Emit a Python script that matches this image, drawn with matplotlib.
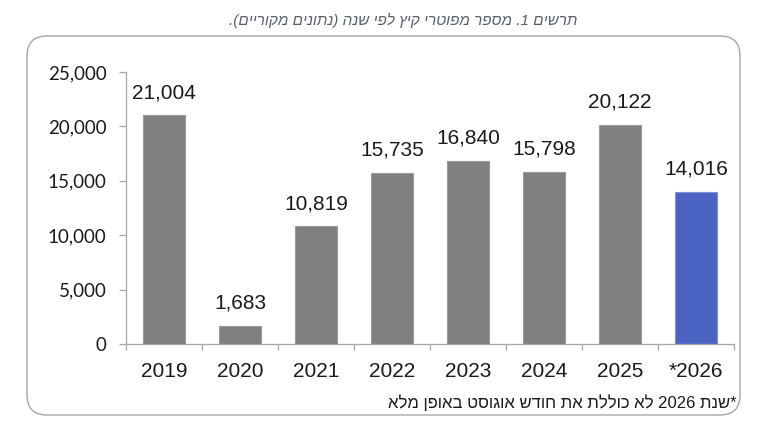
import matplotlib
matplotlib.use("Agg")
import matplotlib.pyplot as plt
from matplotlib.patches import FancyBboxPatch
from matplotlib.transforms import IdentityTransform
import re

categories = ["2019", "2020", "2021", "2022", "2023", "2024", "2025", "*2026"]
values = [21004, 1683, 10819, 15735, 16840, 15798, 20122, 14016]
yticks = [0, 5000, 10000, 15000, 20000, 25000]
title_text = "תרשים 1. מספר מפוטרי קיץ לפי שנה (נתונים מקוריים)."
note_text = "*שנת 2026 לא כוללת את חודש אוגוסט באופן מלא"


def visual(s):
    r = s[::-1]
    r = re.sub(r"[0-9][0-9,\.]*[0-9]|[0-9]", lambda m: m.group(0)[::-1], r)
    r = r.translate(str.maketrans("()", ")("))
    return r


W, H = 768, 429
fig = plt.figure(figsize=(W / 100, H / 100), dpi=100)
ax = fig.add_axes([126 / W, 1 - 344 / H, (734 - 126) / W, (344 - 72) / H])

x = list(range(len(categories)))
colors = ["#808080"] * (len(categories) - 1) + ["#4b64c4"]
edges = ["#9a9a9a"] * (len(categories) - 1) + ["#7d90d8"]
bars = ax.bar(x, values, width=0.56, color=colors, edgecolor=edges, linewidth=0.8, zorder=2)

for xi, v in zip(x, values):
    ax.annotate(f"{v:,}", (xi, v), xytext=(0, 9.5), textcoords="offset points",
                ha="center", va="bottom", fontsize=15, family="Liberation Sans", color="#1a1a1a")

ax.set_xlim(-0.5, len(categories) - 0.5)
ax.set_ylim(0, 25000)
ax.set_yticks(yticks)
ax.set_yticklabels([f"{t:,}" for t in yticks], family="Lato", fontsize=13.5, color="#1a1a1a")
ax.set_xticks(x)
ax.set_xticklabels(categories, family="Liberation Sans", fontsize=15, color="#1a1a1a")
ax.set_xticks([i - 0.5 for i in range(len(categories) + 1)], minor=True)
ax.tick_params(axis="x", which="major", length=0, pad=13)
ax.tick_params(axis="x", which="minor", length=4.5, color="#a6a6a6", width=0.9)
ax.tick_params(axis="y", length=5, color="#a6a6a6", width=0.9, pad=9)

for s in ["top", "right"]:
    ax.spines[s].set_visible(False)
for s in ["left", "bottom"]:
    ax.spines[s].set_color("#a6a6a6")
    ax.spines[s].set_linewidth(0.9)

box = FancyBboxPatch((27, 14), 713, 379, boxstyle="round,pad=0,rounding_size=20",
                     transform=IdentityTransform(), facecolor="none", edgecolor="#a6a6a6",
                     linewidth=1.0)
fig.add_artist(box)

fig.text(577 / W, 1 - 25 / H, visual(title_text), ha="right", va="baseline",
         fontsize=11, style="italic", color="#58606a", family=["Liberation Sans", "DejaVu Sans"])
fig.text(737 / W, 1 - 408 / H, visual(note_text), ha="right", va="baseline",
         fontsize=12, color="#1a1a1a", family=["Liberation Sans", "DejaVu Sans"])

fig.savefig("out.png", dpi=100)
